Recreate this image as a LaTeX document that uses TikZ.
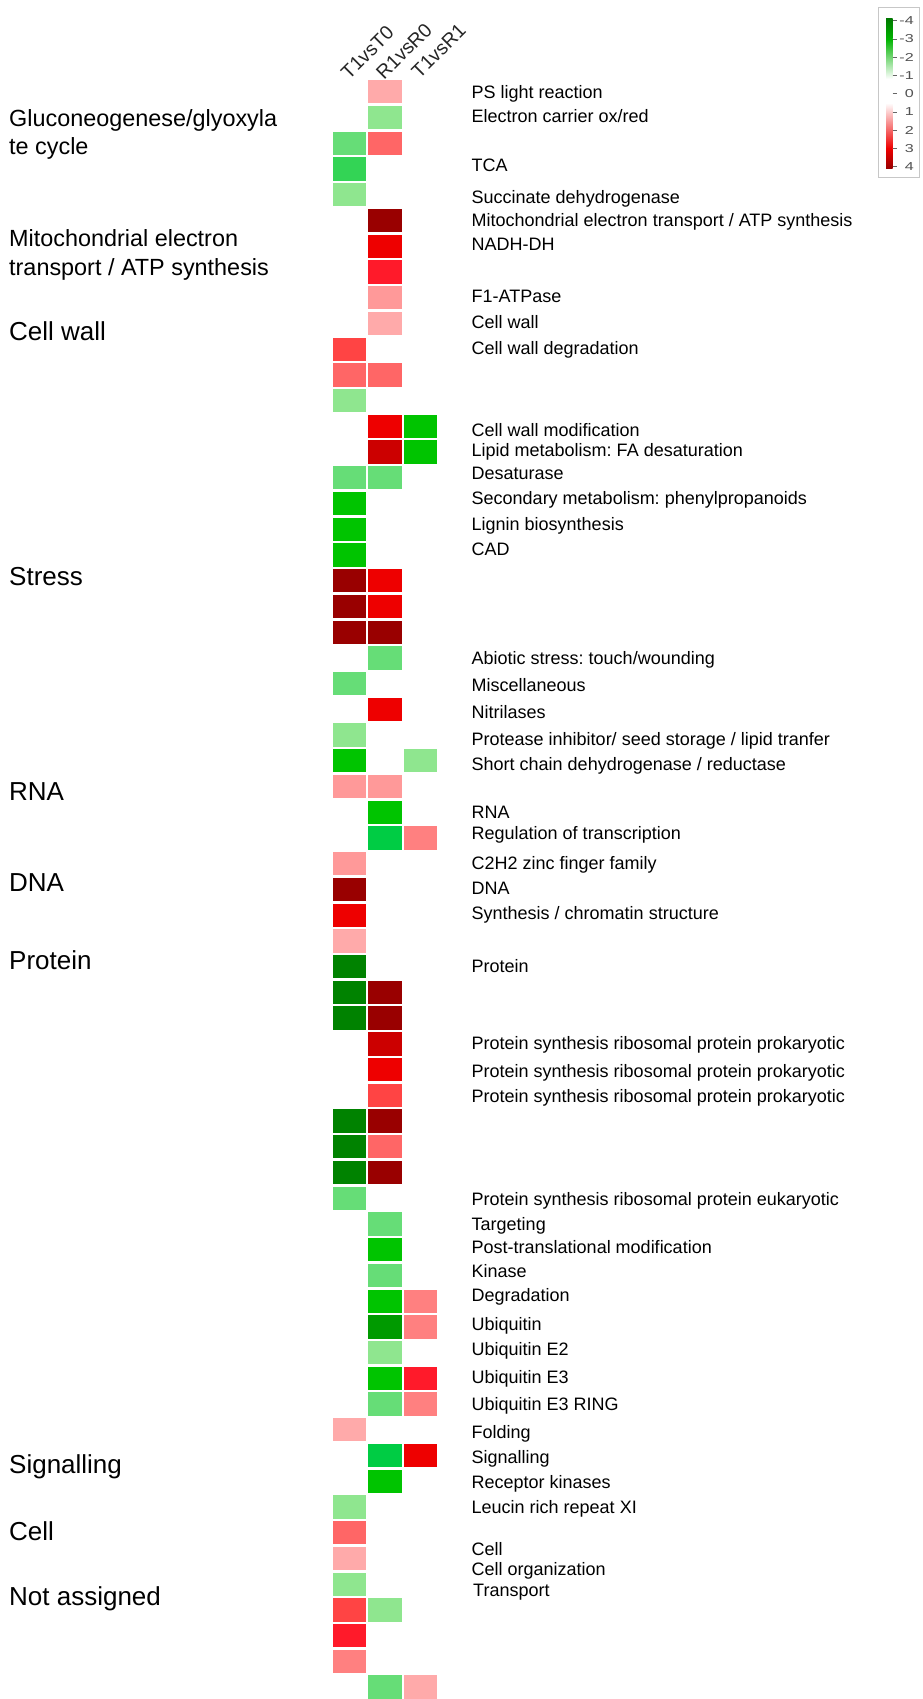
\documentclass[tikz,border=0pt]{standalone}
\usepackage{fontspec}
\setmainfont{Liberation Sans}
\frenchspacing
\definecolor{cDG}{HTML}{008200}
\definecolor{cG}{HTML}{00C400}
\definecolor{cGb}{HTML}{00CC44}
\definecolor{cGd}{HTML}{009A00}
\definecolor{cGc}{HTML}{33D455}
\definecolor{cMG}{HTML}{66DD77}
\definecolor{cLG}{HTML}{8FE68F}
\definecolor{cDR}{HTML}{990000}
\definecolor{cR}{HTML}{EE0000}
\definecolor{cRb}{HTML}{CC0000}
\definecolor{cRc}{HTML}{FF1A2A}
\definecolor{cTM}{HTML}{FF4444}
\definecolor{cSA}{HTML}{FF6666}
\definecolor{cSB}{HTML}{FF8080}
\definecolor{cPK}{HTML}{FF9999}
\definecolor{cLP}{HTML}{FFAAAA}
\definecolor{legG}{HTML}{007A00}
\definecolor{legGm}{HTML}{00B400}
\definecolor{legR}{HTML}{EE0000}
\definecolor{legDR}{HTML}{990000}
\begin{document}
\begin{tikzpicture}[x=1pt,y=-1pt,
  cell/.style={rectangle, inner sep=0pt, minimum width=33.3pt, minimum height=23.3pt, anchor=north west, draw=none},
  rlab/.style={anchor=base west, inner sep=0pt, font=\fontsize{18}{21}\selectfont},
  llab/.style={anchor=base west, inner sep=0pt, font=\fontsize{26}{30}\selectfont},
  mlab/.style={anchor=base west, inner sep=0pt, font=\fontsize{23.4}{28}\selectfont},
  hlab/.style={anchor=base west, inner sep=0pt, rotate=45, text=black!85, font=\fontsize{19.5}{22}\selectfont},
  tlab/.style={anchor=east, inner sep=0pt, text=black!68, font=\fontsize{11.5}{13}\selectfont},
  tick/.style={draw=black!60, line width=0.7pt}]

\useasboundingbox[fill=white] (0,0) rectangle (923,1699);

% heat map cells
\foreach \r/\c/\k in {
 1/2/cLP, 2/2/cLG, 3/1/cMG, 3/2/cSA, 4/1/cGc, 5/1/cLG,
 6/2/cDR, 7/2/cR, 8/2/cRc, 9/2/cPK, 10/2/cLP,
 11/1/cTM, 12/1/cSA, 12/2/cSA, 13/1/cLG,
 14/2/cR, 14/3/cG, 15/2/cRb, 15/3/cG, 16/1/cMG, 16/2/cMG,
 17/1/cG, 18/1/cG, 19/1/cG,
 20/1/cDR, 20/2/cR, 21/1/cDR, 21/2/cR, 22/1/cDR, 22/2/cDR,
 23/2/cMG, 24/1/cMG, 25/2/cR, 26/1/cLG, 27/1/cG, 27/3/cLG,
 28/1/cPK, 28/2/cPK, 29/2/cG, 30/2/cGb, 30/3/cSB,
 31/1/cPK, 32/1/cDR, 33/1/cR, 34/1/cLP,
 35/1/cDG, 36/1/cDG, 36/2/cDR, 37/1/cDG, 37/2/cDR,
 38/2/cRb, 39/2/cR, 40/2/cTM,
 41/1/cDG, 41/2/cDR, 42/1/cDG, 42/2/cSA, 43/1/cDG, 43/2/cDR,
 44/1/cMG, 45/2/cMG, 46/2/cG, 47/2/cMG,
 48/2/cG, 48/3/cSB, 49/2/cGd, 49/3/cSB, 50/2/cLG,
 51/2/cG, 51/3/cRc, 52/2/cMG, 52/3/cSB, 53/1/cLP,
 54/2/cGb, 54/3/cR, 55/2/cG, 56/1/cLG, 57/1/cSA, 58/1/cLP, 59/1/cLG,
 60/1/cTM, 60/2/cLG, 61/1/cRc, 62/1/cSB, 63/2/cMG, 63/3/cLP}{
  \node[cell, fill=\k] (cell-\r-\c) at ({332.7+(\c-1)*35.3},{80+(\r-1)*25.73}) {};
}

% column headers
\node[hlab] (h1) at (349,80.3) {T1vsT0};
\node[hlab] (h2) at (384,80.6) {R1vsR0};
\node[hlab] (h3) at (419.5,79.5) {T1vsR1};

% left group labels
\node[mlab] (g1a) at (9,126.7) {Gluconeogenese/glyoxyla};
\node[mlab] (g1b) at (9,155) {te cycle};
\node[mlab] (g2a) at (9,246.7) {Mitochondrial electron};
\node[mlab] (g2b) at (9,275) {transport / ATP synthesis};
\node[llab] (g3) at (9,340) {Cell wall};
\node[llab] (g4) at (9,585.5) {Stress};
\node[llab] (g5) at (9,800) {RNA};
\node[llab] (g6) at (9,891.5) {DNA};
\node[llab] (g7) at (9,969.6) {Protein};
\node[llab] (g8) at (9,1473) {Signalling};
\node[llab] (g9) at (9,1540) {Cell};
\node[llab] (g10) at (9,1605) {Not assigned};

% right labels
\node[rlab] (r1) at (471.5,98.3) {PS light reaction};
\node[rlab] (r2) at (471.5,122.7) {Electron carrier ox/red};
\node[rlab] (r3) at (471.5,171.7) {TCA};
\node[rlab] (r4) at (471.5,203.3) {Succinate dehydrogenase};
\node[rlab] (r5) at (471.5,226.7) {Mitochondrial electron transport / ATP synthesis};
\node[rlab] (r6) at (471.5,250) {NADH-DH};
\node[rlab] (r7) at (471.5,302.2) {F1-ATPase};
\node[rlab] (r8) at (471.5,328.2) {Cell wall};
\node[rlab] (r9) at (471.5,354.2) {Cell wall degradation};
\node[rlab] (r10) at (471.5,436.6) {Cell wall modification};
\node[rlab] (r11) at (471.5,456.1) {Lipid metabolism: FA desaturation};
\node[rlab] (r12) at (471.5,479.9) {Desaturase};
\node[rlab] (r13) at (471.5,504.8) {Secondary metabolism: phenylpropanoids};
\node[rlab] (r14) at (471.5,530.8) {Lignin biosynthesis};
\node[rlab] (r15) at (471.5,555.7) {CAD};
\node[rlab] (r16) at (471.5,664.1) {Abiotic stress: touch/wounding};
\node[rlab] (r17) at (471.5,691.2) {Miscellaneous};
\node[rlab] (r18) at (471.5,718.2) {Nitrilases};
\node[rlab] (r19) at (471.5,745) {Protease inhibitor/ seed storage / lipid tranfer};
\node[rlab] (r20) at (471.5,770) {Short chain dehydrogenase / reductase};
\node[rlab] (r21) at (471.5,818.3) {RNA};
\node[rlab] (r22) at (471.5,839) {Regulation of transcription};
\node[rlab] (r23) at (471.5,869.9) {C2H2 zinc finger family};
\node[rlab] (r24) at (471.5,894.8) {DNA};
\node[rlab] (r25) at (471.5,919.7) {Synthesis / chromatin structure};
\node[rlab] (r26) at (471.5,972.8) {Protein};
\node[rlab] (r27) at (471.5,1049.7) {Protein synthesis ribosomal protein prokaryotic};
\node[rlab] (r28) at (471.5,1077.9) {Protein synthesis ribosomal protein prokaryotic};
\node[rlab] (r29) at (471.5,1102.8) {Protein synthesis ribosomal protein prokaryotic};
\node[rlab] (r30) at (471.5,1205.7) {Protein synthesis ribosomal protein eukaryotic};
\node[rlab] (r31) at (471.5,1230.6) {Targeting};
\node[rlab] (r32) at (471.5,1253.4) {Post-translational modification};
\node[rlab] (r33) at (471.5,1277.2) {Kinase};
\node[rlab] (r34) at (471.5,1301) {Degradation};
\node[rlab] (r35) at (471.5,1330.3) {Ubiquitin};
\node[rlab] (r36) at (471.5,1355.2) {Ubiquitin E2};
\node[rlab] (r37) at (471.5,1383.4) {Ubiquitin E3};
\node[rlab] (r38) at (471.5,1410.3) {Ubiquitin E3 RING};
\node[rlab] (r39) at (471.5,1438.3) {Folding};
\node[rlab] (r40) at (471.5,1463.3) {Signalling};
\node[rlab] (r41) at (471.5,1488.3) {Receptor kinases};
\node[rlab] (r42) at (471.5,1513.3) {Leucin rich repeat XI};
\node[rlab] (r43) at (471.5,1555) {Cell};
\node[rlab] (r44) at (471.5,1575) {Cell organization};
\node[rlab] (r45) at (473,1596.7) {Transport};

% legend
\node[draw=black!22, line width=0.8pt, inner sep=0pt, minimum width=41pt, minimum height=170pt, anchor=north west] (legbox) at (878.3,6.7) {};
\shade[top color=legG, bottom color=legGm] (886,19) rectangle (892.7,39);
\shade[top color=legGm, bottom color=white] (886,39) rectangle (892.7,79);
\fill[white] (886,79) rectangle (892.7,103);
\shade[top color=white, bottom color=legR] (886,103) rectangle (892.7,148.5);
\shade[top color=legR, bottom color=legDR] (886,148.5) rectangle (892.7,168.3);
\foreach \v/\t [count=\i] in {-4/-4,-3/-3,-2/-2,-1/-1,0/0,1/1,2/2,3/3,4/4}{
  \coordinate (tk\i) at (892.7,{93.7+\v*18.25});
  \coordinate (tke\i) at (896.8,{93.7+\v*18.25});
  \draw[tick] (tk\i) -- (tke\i);
  \node[tlab] (tl\i) at (914,{93.7+\v*18.25}) {\scalebox{1.4}[1]{\t}};
}
\end{tikzpicture}
\end{document}
